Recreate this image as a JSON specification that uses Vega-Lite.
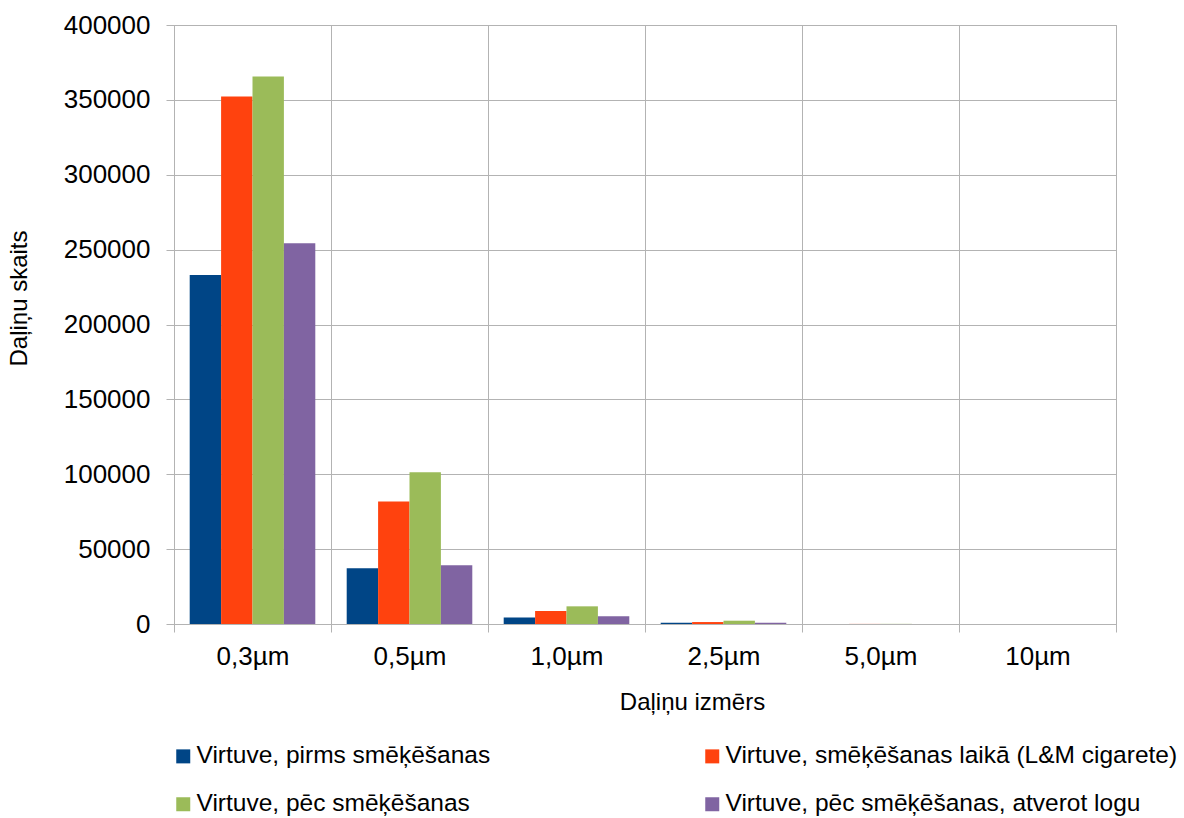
{
  "$schema": "https://vega.github.io/schema/vega-lite/v6.json",
  "width": 942,
  "height": 599,
  "autosize": {"type": "none"},
  "padding": {"left": 174, "top": 25, "right": 68, "bottom": 194},
  "background": "white",
  "config": {
    "font": "Liberation Sans",
    "view": {"stroke": "#b3b3b3", "strokeWidth": 1},
    "axis": {"labelFont": "Liberation Sans", "titleFont": "Liberation Sans", "labelColor": "black", "titleColor": "black", "titleFontWeight": "normal", "domainColor": "#b3b3b3", "tickColor": "#b3b3b3", "gridColor": "#b3b3b3", "gridOpacity": 1},
    "legend": {"labelFont": "Liberation Sans", "labelColor": "black"}
  },
  "data": {
    "values": [
      {"size": "0,3µm", "series": "Virtuve, pirms smēķēšanas", "value": 233100},
      {"size": "0,3µm", "series": "Virtuve, smēķēšanas laikā (L&M cigarete)", "value": 352300},
      {"size": "0,3µm", "series": "Virtuve, pēc smēķēšanas", "value": 365600},
      {"size": "0,3µm", "series": "Virtuve, pēc smēķēšanas, atverot logu", "value": 254300},
      {"size": "0,5µm", "series": "Virtuve, pirms smēķēšanas", "value": 37300},
      {"size": "0,5µm", "series": "Virtuve, smēķēšanas laikā (L&M cigarete)", "value": 81800},
      {"size": "0,5µm", "series": "Virtuve, pēc smēķēšanas", "value": 101300},
      {"size": "0,5µm", "series": "Virtuve, pēc smēķēšanas, atverot logu", "value": 39300},
      {"size": "1,0µm", "series": "Virtuve, pirms smēķēšanas", "value": 4400},
      {"size": "1,0µm", "series": "Virtuve, smēķēšanas laikā (L&M cigarete)", "value": 8700},
      {"size": "1,0µm", "series": "Virtuve, pēc smēķēšanas", "value": 11800},
      {"size": "1,0µm", "series": "Virtuve, pēc smēķēšanas, atverot logu", "value": 5100},
      {"size": "2,5µm", "series": "Virtuve, pirms smēķēšanas", "value": 900},
      {"size": "2,5µm", "series": "Virtuve, smēķēšanas laikā (L&M cigarete)", "value": 1300},
      {"size": "2,5µm", "series": "Virtuve, pēc smēķēšanas", "value": 2200},
      {"size": "2,5µm", "series": "Virtuve, pēc smēķēšanas, atverot logu", "value": 900},
      {"size": "5,0µm", "series": "Virtuve, pirms smēķēšanas", "value": 40},
      {"size": "5,0µm", "series": "Virtuve, smēķēšanas laikā (L&M cigarete)", "value": 60},
      {"size": "5,0µm", "series": "Virtuve, pēc smēķēšanas", "value": 90},
      {"size": "5,0µm", "series": "Virtuve, pēc smēķēšanas, atverot logu", "value": 40},
      {"size": "10µm", "series": "Virtuve, pirms smēķēšanas", "value": 5},
      {"size": "10µm", "series": "Virtuve, smēķēšanas laikā (L&M cigarete)", "value": 10},
      {"size": "10µm", "series": "Virtuve, pēc smēķēšanas", "value": 15},
      {"size": "10µm", "series": "Virtuve, pēc smēķēšanas, atverot logu", "value": 5}
    ]
  },
  "mark": {"type": "bar"},
  "encoding": {
    "x": {
      "field": "size", "type": "nominal", "sort": null,
      "scale": {"paddingInner": 0, "paddingOuter": 0},
      "axis": {"title": "Daļiņu izmērs", "labelAngle": 0, "labelFontSize": 26, "titleFontSize": 24, "tickBand": "extent", "grid": true, "tickSize": 8, "labelPadding": 11, "titleX": 518, "titleY": 78, "titleAlign": "center", "titleBaseline": "middle"}
    },
    "xOffset": {
      "field": "series", "type": "nominal", "sort": null,
      "scale": {"paddingInner": 0, "paddingOuter": 0.5}
    },
    "y": {
      "field": "value", "type": "quantitative",
      "scale": {"domain": [0, 400000], "nice": false},
      "axis": {"title": "Daļiņu skaits", "values": [0, 50000, 100000, 150000, 200000, 250000, 300000, 350000, 400000], "format": "d", "labelFontSize": 26, "titleFontSize": 24, "tickSize": 8, "labelPadding": 16, "titleX": -155, "titleY": 273, "titleAngle": 270, "titleAlign": "center", "titleBaseline": "middle"}
    },
    "color": {
      "field": "series", "type": "nominal",
      "scale": {
        "domain": ["Virtuve, pirms smēķēšanas", "Virtuve, smēķēšanas laikā (L&M cigarete)", "Virtuve, pēc smēķēšanas", "Virtuve, pēc smēķēšanas, atverot logu"],
        "range": ["#004586", "#ff420e", "#9bbb59", "#8064a2"]
      },
      "legend": {"title": null, "orient": "none", "legendX": -3, "legendY": 719, "columns": 2, "columnPadding": 209, "rowPadding": 23, "symbolType": "square", "symbolSize": 196, "symbolStrokeWidth": 0, "symbolOpacity": 1, "labelFontSize": 24.5, "labelLimit": 700, "labelOffset": 1, "direction": "horizontal"}
    }
  }
}
